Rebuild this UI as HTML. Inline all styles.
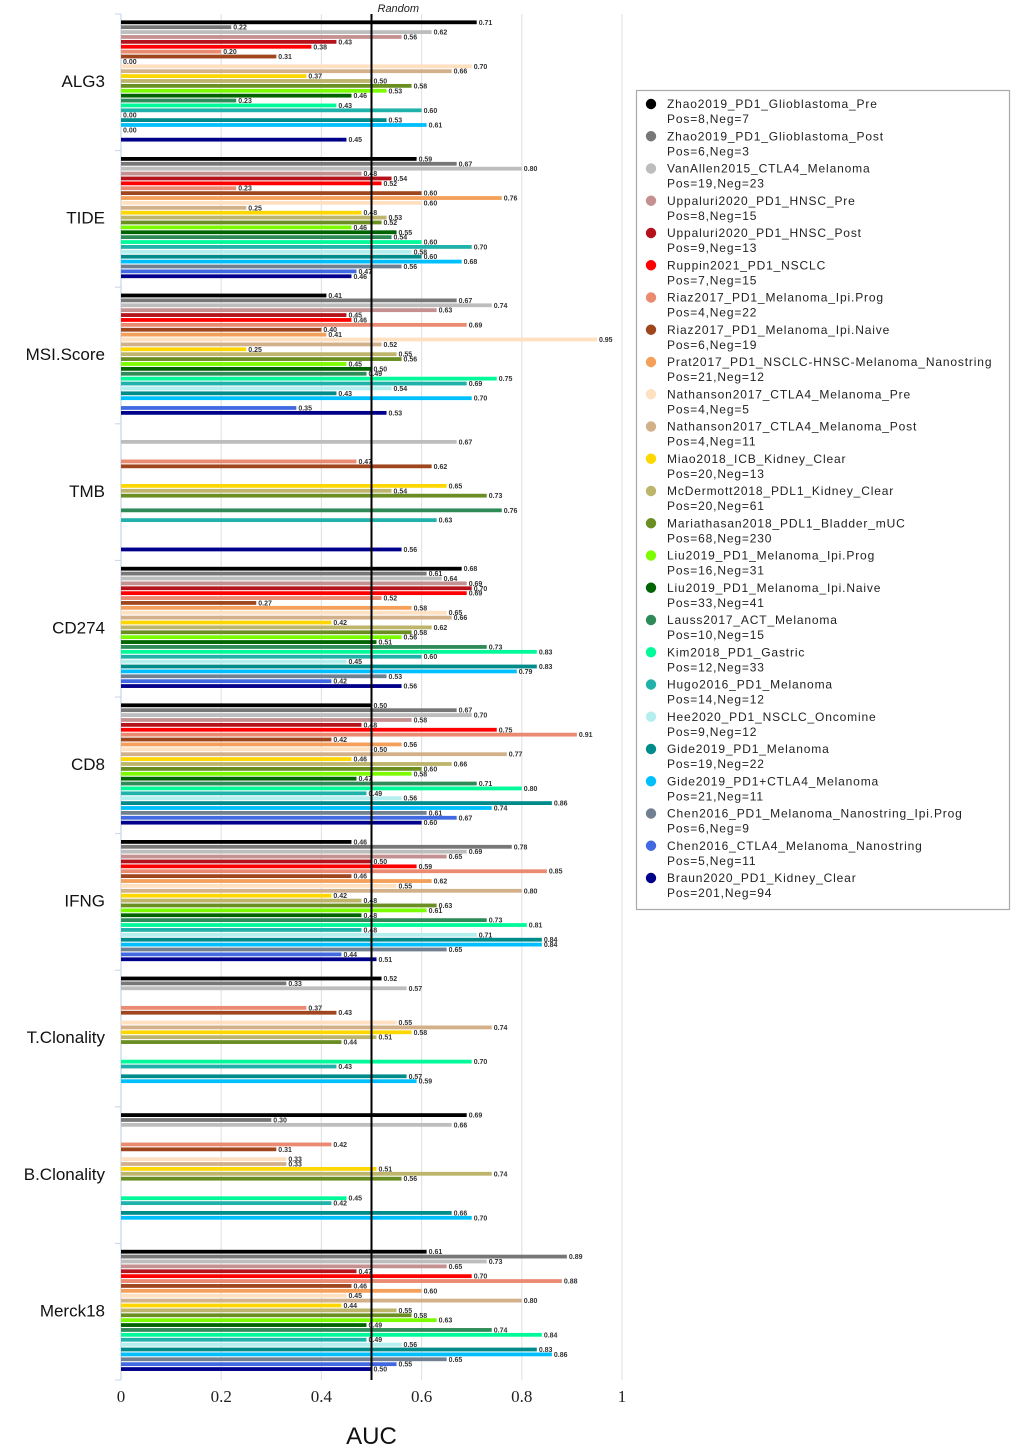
<!DOCTYPE html>
<html><head><meta charset="utf-8">
<style>
html,body{margin:0;padding:0;background:#fff;}
svg{display:block;}
.lg{font-family:"Liberation Sans",sans-serif;font-size:12px;letter-spacing:0.85px;fill:#222;}
</style></head>
<body>
<svg id="chart" width="1020" height="1451" viewBox="0 0 1020 1451" xmlns="http://www.w3.org/2000/svg"></svg>
<script>
const categories = ["ALG3","TIDE","MSI.Score","TMB","CD274","CD8","IFNG","T.Clonality","B.Clonality","Merck18"];
const datasets = ["Zhao2019_PD1_Glioblastoma_Pre","Zhao2019_PD1_Glioblastoma_Post","VanAllen2015_CTLA4_Melanoma","Uppaluri2020_PD1_HNSC_Pre","Uppaluri2020_PD1_HNSC_Post","Ruppin2021_PD1_NSCLC","Riaz2017_PD1_Melanoma_Ipi.Prog","Riaz2017_PD1_Melanoma_Ipi.Naive","Prat2017_PD1_NSCLC-HNSC-Melanoma_Nanostring","Nathanson2017_CTLA4_Melanoma_Pre","Nathanson2017_CTLA4_Melanoma_Post","Miao2018_ICB_Kidney_Clear","McDermott2018_PDL1_Kidney_Clear","Mariathasan2018_PDL1_Bladder_mUC","Liu2019_PD1_Melanoma_Ipi.Prog","Liu2019_PD1_Melanoma_Ipi.Naive","Lauss2017_ACT_Melanoma","Kim2018_PD1_Gastric","Hugo2016_PD1_Melanoma","Hee2020_PD1_NSCLC_Oncomine","Gide2019_PD1_Melanoma","Gide2019_PD1+CTLA4_Melanoma","Chen2016_PD1_Melanoma_Nanostring_Ipi.Prog","Chen2016_CTLA4_Melanoma_Nanostring","Braun2020_PD1_Kidney_Clear"];
const sampleSizes = ["Pos=8,Neg=7","Pos=6,Neg=3","Pos=19,Neg=23","Pos=8,Neg=15","Pos=9,Neg=13","Pos=7,Neg=15","Pos=4,Neg=22","Pos=6,Neg=19","Pos=21,Neg=12","Pos=4,Neg=5","Pos=4,Neg=11","Pos=20,Neg=13","Pos=20,Neg=61","Pos=68,Neg=230","Pos=16,Neg=31","Pos=33,Neg=41","Pos=10,Neg=15","Pos=12,Neg=33","Pos=14,Neg=12","Pos=9,Neg=12","Pos=19,Neg=22","Pos=21,Neg=11","Pos=6,Neg=9","Pos=5,Neg=11","Pos=201,Neg=94"];
const colors = ["#000000","#777777","#bdbdbd","#c49090","#b5121b","#ff0000","#ea8a70","#a0461f","#f4a05a","#ffe0c0","#d2b08a","#ffd700","#bdb56b","#6b8e23","#7cfc00","#006400","#2e8b57","#00fa9a","#20b2aa","#b4eeee","#008b8b","#00bfff","#708090","#4169e1","#00008b"];
const valALG3 = [0.71,0.22,0.62,0.56,0.43,0.38,0.20,0.31,0.00,0.70,0.66,0.37,0.50,0.58,0.53,0.46,0.23,0.43,0.60,0.00,0.53,0.61,0.00,null,0.45];
const valTIDE = [0.59,0.67,0.80,0.48,0.54,0.52,0.23,0.60,0.76,0.60,0.25,0.48,0.53,0.52,0.46,0.55,0.54,0.60,0.70,0.58,0.60,0.68,0.56,0.47,0.46];
const valMSI = [0.41,0.67,0.74,0.63,0.45,0.46,0.69,0.40,0.41,0.95,0.52,0.25,0.55,0.56,0.45,0.50,0.49,0.75,0.69,0.54,0.43,0.70,null,0.35,0.53];
const valTMB = [null,null,0.67,null,null,null,0.47,0.62,null,null,null,0.65,0.54,0.73,null,null,0.76,null,0.63,null,null,null,null,null,0.56];
const valCD274 = [0.68,0.61,0.64,0.69,0.70,0.69,0.52,0.27,0.58,0.65,0.66,0.42,0.62,0.58,0.56,0.51,0.73,0.83,0.60,0.45,0.83,0.79,0.53,0.42,0.56];
const valCD8 = [0.50,0.67,0.70,0.58,0.48,0.75,0.91,0.42,0.56,0.50,0.77,0.46,0.66,0.60,0.58,0.47,0.71,0.80,0.49,0.56,0.86,0.74,0.61,0.67,0.60];
const valIFNG = [0.46,0.78,0.69,0.65,0.50,0.59,0.85,0.46,0.62,0.55,0.80,0.42,0.48,0.63,0.61,0.48,0.73,0.81,0.48,0.71,0.84,0.84,0.65,0.44,0.51];
const valTClon = [0.52,0.33,0.57,null,null,null,0.37,0.43,null,0.55,0.74,0.58,0.51,0.44,null,null,null,0.70,0.43,null,0.57,0.59,null,null,null];
const valBClon = [0.69,0.30,0.66,null,null,null,0.42,0.31,null,0.33,0.33,0.51,0.74,0.56,null,null,null,0.45,0.42,null,0.66,0.70,null,null,null];
const valMerck = [0.61,0.89,0.73,0.65,0.47,0.70,0.88,0.46,0.60,0.45,0.80,0.44,0.55,0.58,0.63,0.49,0.74,0.84,0.49,0.56,0.83,0.86,0.65,0.55,0.50];
const values = [valALG3,valTIDE,valMSI,valTMB,valCD274,valCD8,valIFNG,valTClon,valBClon,valMerck];
const ticks = [0,0.2,0.4,0.6,0.8,1];
const tickLabels = ["0","0.2","0.4","0.6","0.8","1"];
const randomLine = 0.5;

const NS="http://www.w3.org/2000/svg";
const svg=document.getElementById('chart');
const X0=121, X1=622, TOP=14, BOT=1380, GP=136.6, FIRST=22.3, SLOT=4.89;
function xs(v){return X0+(X1-X0)*v;}
function ys(g,i){return FIRST+g*GP+i*SLOT;}
function mk(tag,attrs,parent){const e=document.createElementNS(NS,tag);for(const k in attrs)e.setAttribute(k,attrs[k]);(parent||svg).appendChild(e);return e;}

// gridlines
ticks.forEach((t,k)=>{
  const l=mk('line',{x1:xs(t),x2:xs(t),y1:TOP,y2:BOT,stroke:k===0?'#c8d4e8':'#e4e4e4','stroke-width':1.2});
  
  
  const tx=mk('text',{x:xs(t),y:1402,'text-anchor':'middle','font-family':'Liberation Serif, serif','font-size':17,fill:'#222'});
  tx.textContent=tickLabels[k];
  
  
});
// group separators
for(let g=0;g<=categories.length;g++){
  const y=TOP+g*GP;
  const s=mk('line',{x1:115,x2:X0,y1:y,y2:y,stroke:'#c8d4e8','stroke-width':1});
  
  
}
// bars
categories.forEach((c,g)=>{
  const lab=mk('text',{x:105,y:ys(g,12)+6,'text-anchor':'end','font-family':'Liberation Sans, sans-serif','font-size':17,fill:'#111'});
  lab.textContent=c;
  
  
  values[g].forEach((v,i)=>{
    if(v===null)return;
    const y=ys(g,i);
    const r=mk('rect',{x:X0,y:y-1.9,width:Math.max(0,xs(v)-X0),height:3.8,fill:colors[i]});
    
    
    const t=mk('text',{x:xs(v)+2,y:y+2.5,'font-family':'Liberation Sans, sans-serif','font-size':7,'font-weight':'bold',fill:'#333'});
    t.textContent=v.toFixed(2);
    
    
  });
});
// random line
const rl=mk('line',{x1:xs(randomLine),x2:xs(randomLine),y1:TOP,y2:BOT,stroke:'#000','stroke-width':2});


const rt=mk('text',{x:xs(randomLine)+6,y:12,'font-family':'Liberation Sans, sans-serif','font-size':11,'font-style':'italic',fill:'#222'});
rt.textContent='Random';


// axis title
const at=mk('text',{x:xs(0.5),y:1444,'text-anchor':'middle','font-family':'Liberation Sans, sans-serif','font-size':24,fill:'#111'});
at.textContent='AUC';


// legend
const lg=mk('g',{});


const box=mk('rect',{x:636.5,y:90.5,width:373,height:819,fill:'#fff',stroke:'#aaa','stroke-width':1.2},lg);


datasets.forEach((d,i)=>{
  const y=104+i*32.25;
  const e=mk('g',{},lg);
  
  
  mk('circle',{cx:651,cy:y,r:5.2,fill:colors[i]},e);
  const t1=mk('text',{x:667,y:y+4,class:'lg'},e);t1.textContent=d;
  const t2=mk('text',{x:667,y:y+19,class:'lg'},e);t2.textContent=sampleSizes[i];
});
</script>
</body></html>
